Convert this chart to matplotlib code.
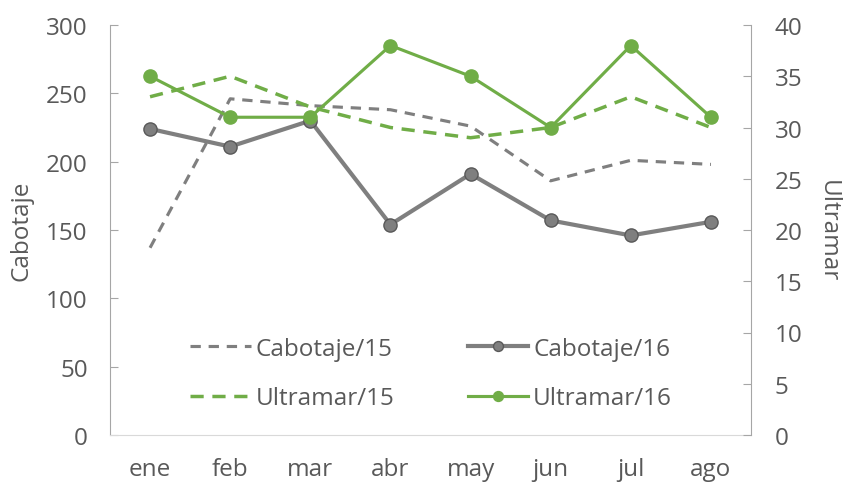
import matplotlib
matplotlib.use("Agg")
import matplotlib.pyplot as plt
from matplotlib.lines import Line2D

months = ["ene", "feb", "mar", "abr", "may", "jun", "jul", "ago"]
cabotaje_15 = [137, 246, 241, 238, 226, 186, 201, 198]
cabotaje_16 = [224, 211, 230, 154, 191, 157, 146, 156]
ultramar_15 = [33, 35, 32, 30, 29, 30, 33, 30]
ultramar_16 = [35, 31, 31, 38, 35, 30, 38, 31]
left_ticks = [0, 50, 100, 150, 200, 250, 300]
right_ticks = [0, 5, 10, 15, 20, 25, 30, 35, 40]

plt.rcParams['font.family'] = ['Open Sans', 'DejaVu Sans']
txt = "#595959"
gray = "#7f7f7f"
green = "#70ad47"
fs = 17.5

fig = plt.figure(figsize=(8.45, 4.85), dpi=100)
ax = fig.add_axes([110/845, 1-436/485, 641/845, 410/485])
ax2 = ax.twinx()

x = list(range(len(months)))
l1, = ax.plot(x, cabotaje_15, color=gray, lw=2.25, dashes=(3.3, 2.5), label="Cabotaje/15")
l2, = ax.plot(x, cabotaje_16, color=gray, lw=3.0, marker='o', ms=9.5,
              mfc=gray, mec="#595959", mew=1.0, label="Cabotaje/16")
l3, = ax2.plot(x, ultramar_15, color=green, lw=2.5, dashes=(3.8, 2.5), label="Ultramar/15")
l4, = ax2.plot(x, ultramar_16, color=green, lw=2.25, marker='o', ms=9.5,
               mfc=green, mec=green, label="Ultramar/16")

ax.set_xlim(-0.5, 7.5)
ax.set_ylim(0, 300)
ax2.set_ylim(0, 40)
ax.set_yticks(left_ticks)
ax2.set_yticks(right_ticks)
ax.set_xticks(x)
ax.set_xticklabels(months)

for a in (ax, ax2):
    for s in a.spines.values():
        s.set_visible(False)
ax.spines['left'].set_visible(True)
ax.spines['left'].set_color("#a6a6a6")
ax.spines['bottom'].set_visible(True)
ax.spines['bottom'].set_color("#d9d9d9")
ax2.spines['right'].set_visible(True)
ax2.spines['right'].set_color("#a6a6a6")

ax.tick_params(axis='y', direction='in', length=6, color="#a6a6a6", labelsize=fs,
               labelcolor=txt, pad=16)
ax2.tick_params(axis='y', direction='in', length=6, color="#a6a6a6", labelsize=fs,
                labelcolor=txt, pad=17)
ax.tick_params(axis='x', length=0, labelsize=fs, labelcolor=txt, pad=16)

ax.set_ylabel("Cabotaje", fontsize=fs, color=txt)
ax.yaxis.set_label_coords((34-110)/641, 0.5)
ax2.set_ylabel("Ultramar", fontsize=fs, color=txt, rotation=-90)
ax2.yaxis.set_label_coords((840-110)/641, 0.5)

leg = ax2.legend([l1, l3, l2, l4], ["Cabotaje/15", "Ultramar/15", "Cabotaje/16", "Ultramar/16"],
                 ncol=2, frameon=False, fontsize=fs, labelcolor=txt, markerscale=0.75,
                 handlelength=2.5, handletextpad=0.2, columnspacing=3.0,
                 labelspacing=1.05, loc='center', bbox_to_anchor=(0.501, 0.150))

fig.savefig("out.png", dpi=100)
